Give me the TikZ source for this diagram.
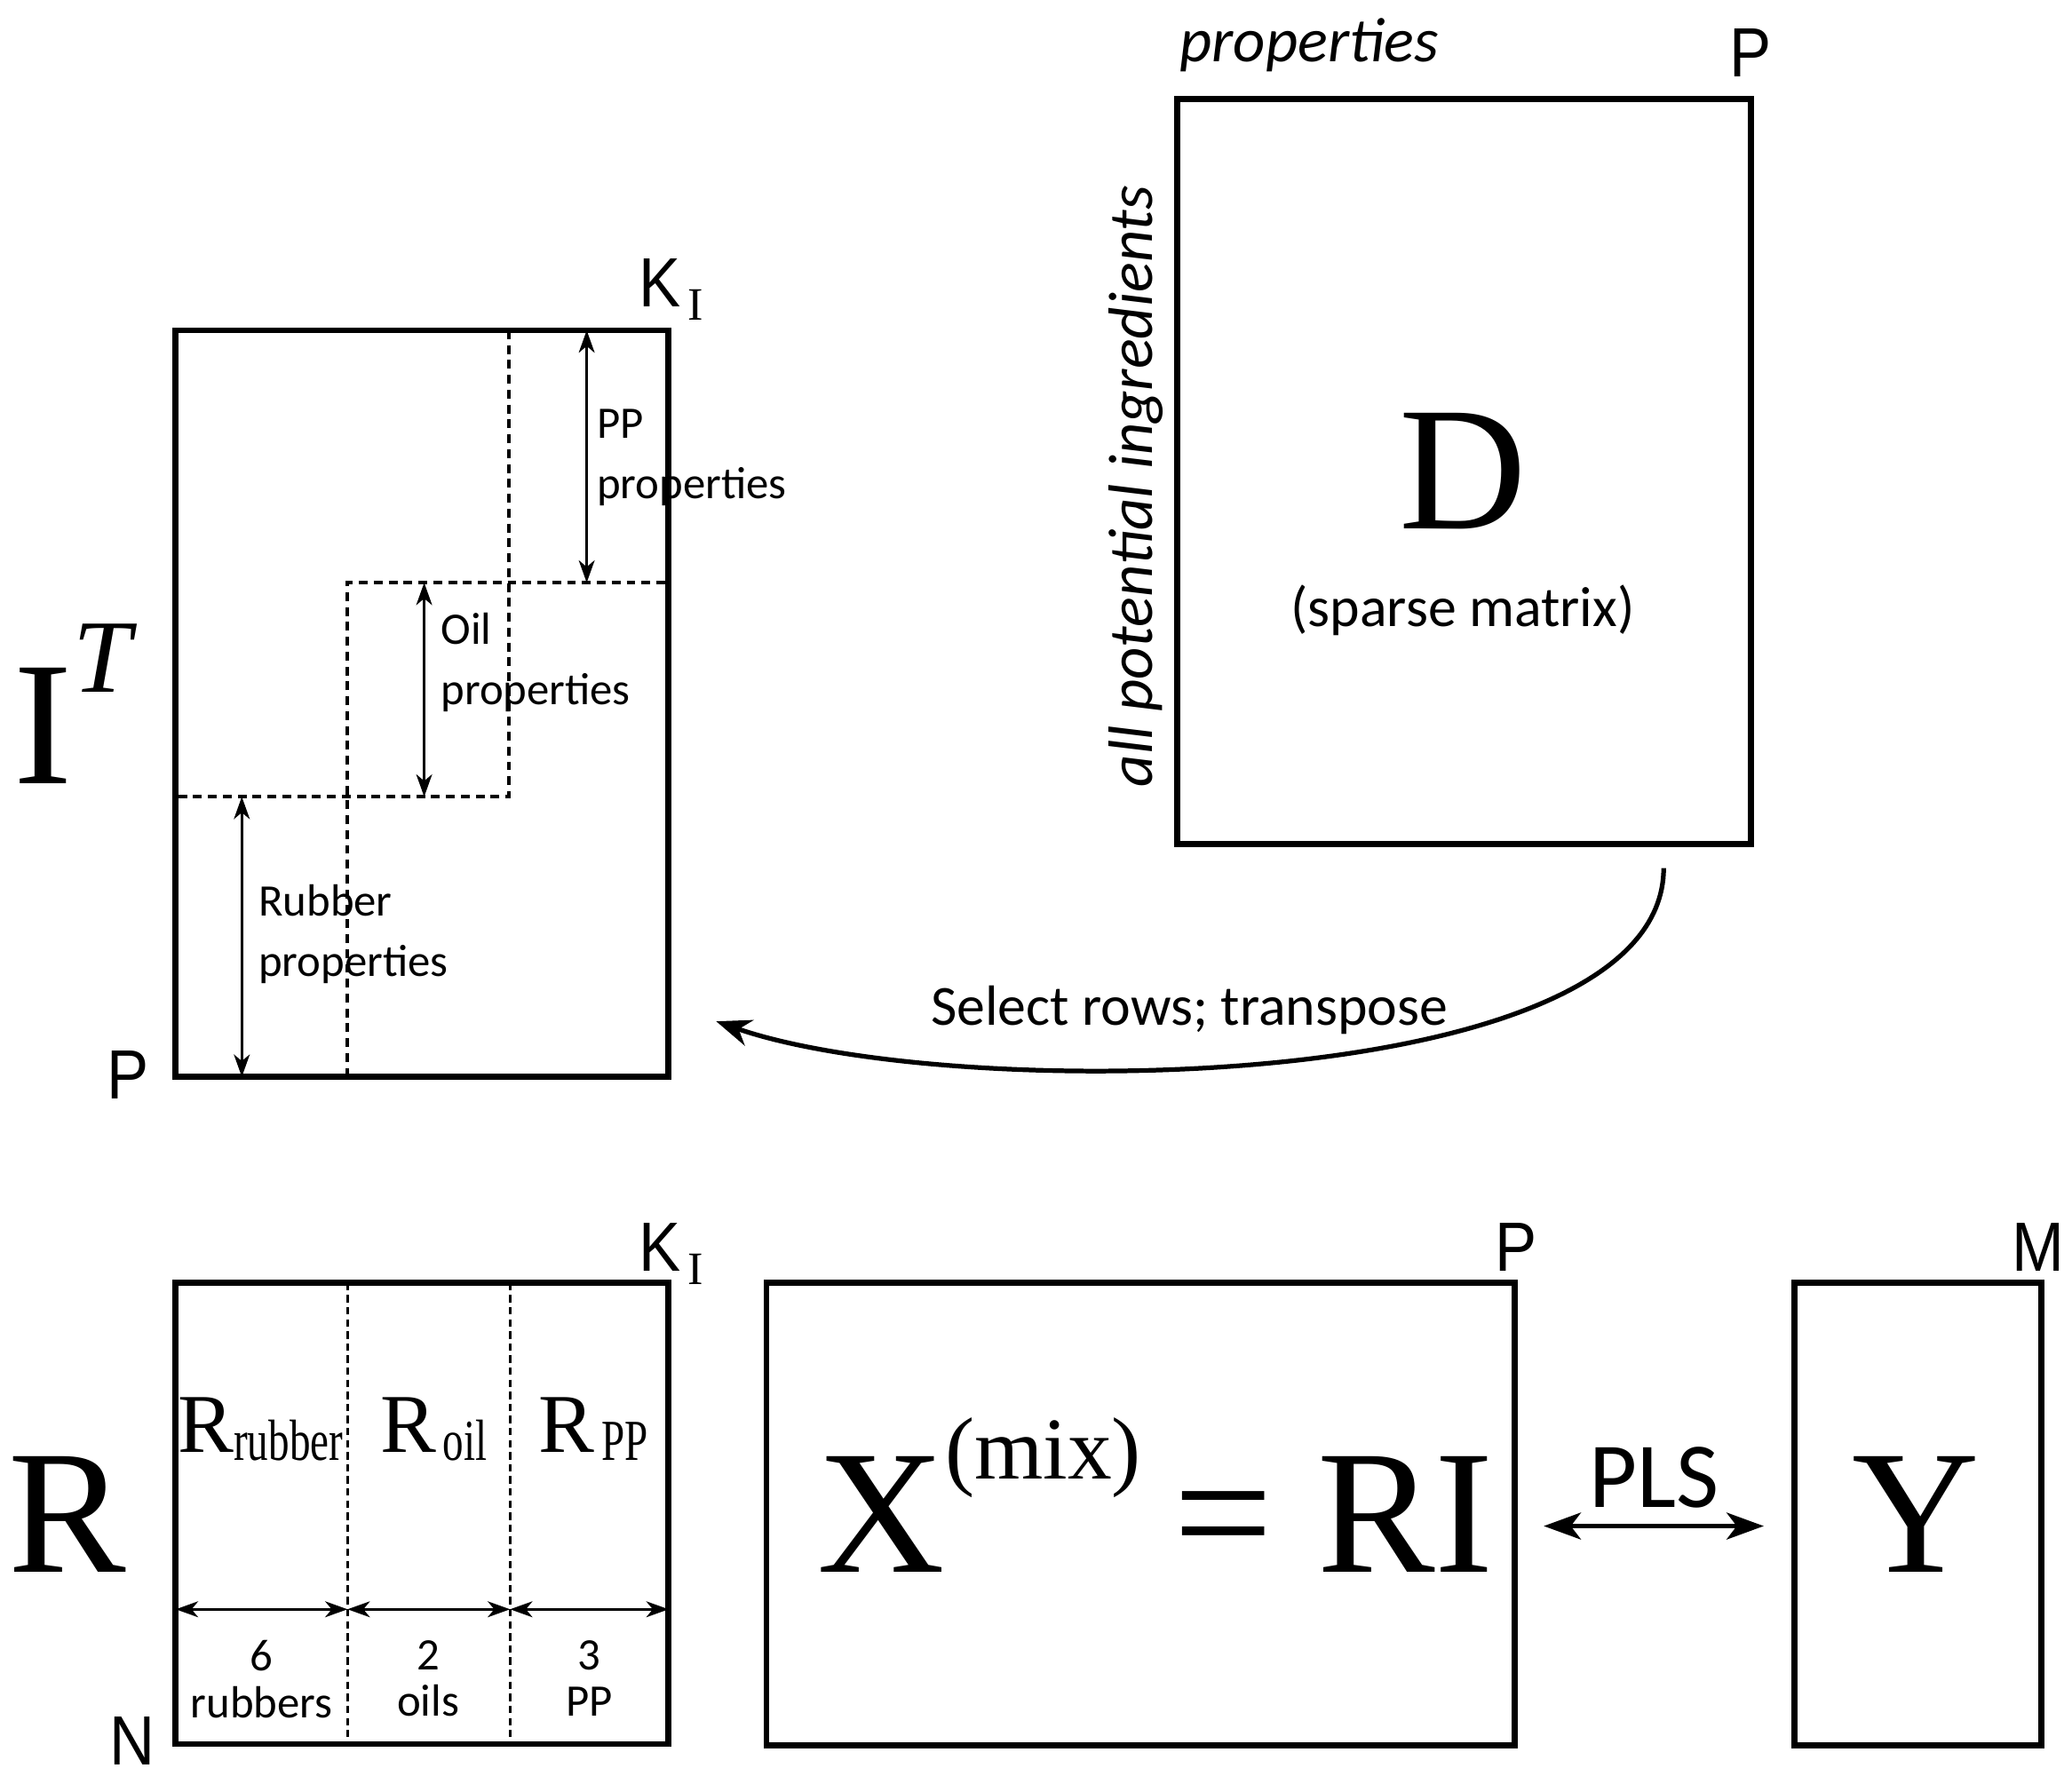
\documentclass[tikz,border=0pt]{standalone}
\usepackage{fontspec}
\setmainfont{Liberation Serif}
\setsansfont{Carlito}
\newfontfamily\dimfont[FakeStretch=0.9]{Liberation Sans}
\newfontfamily\subfont[FakeStretch=0.72]{Liberation Serif}
\usetikzlibrary{arrows.meta,fit}

\begin{document}
\begin{tikzpicture}[
  x=0.01cm, y=-0.01cm,
  mat/.style={rectangle, draw, line width=1.3pt, inner sep=0pt},
  splitline/.style={line width=0.8pt, dash pattern=on 1.9pt off 1.3pt},
  splitthin/.style={line width=0.55pt, dash pattern=on 1.6pt off 1pt},
  spanar/.style={{Stealth[length=4.8pt,width=3.4pt,inset=1.4pt]}-{Stealth[length=4.8pt,width=3.4pt,inset=1.4pt]}, line width=0.6pt},
  selar/.style={-{Stealth[length=7.5pt,width=5.8pt,inset=2.4pt]}, line width=1pt},
  plsar/.style={{Stealth[length=8pt,width=5.8pt,inset=2.2pt]}-{Stealth[length=8pt,width=5.8pt,inset=2.2pt]}, line width=0.8pt},
  grouplab/.style={font=\sffamily\fontsize{9.7}{13}\selectfont, align=left, inner sep=0pt, anchor=north west},
  countlab/.style={font=\sffamily\fontsize{9.7}{10}\selectfont, align=center, inner sep=0pt, anchor=north},
  sizelab/.style={font=\dimfont\fontsize{15}{15}\selectfont, inner sep=0pt, anchor=base west},
  bigsym/.style={font=\fontsize{38}{38}\selectfont, inner sep=0pt},
  blocksym/.style={font=\fontsize{18}{18}\selectfont, inner sep=0pt, anchor=base west},
  notelab/.style={font=\sffamily\fontsize{12.2}{12.2}\selectfont, inner sep=0pt, anchor=base},
]
\useasboundingbox (0,0) rectangle (1568,1344);

% I^T
\node[mat, fit={(133,250) (506,815)}] (Ibox) {};
\draw[splitline] (385,250) -- (385,603) -- (133,603);
\draw[splitline] (263,815) -- (263,441) -- (506,441);
\coordinate (ppTop) at (444,250);
\coordinate (ppBot) at (444,441);
\coordinate (oilTop) at (321,441);
\coordinate (oilBot) at (321,603);
\coordinate (rubTop) at (183,603);
\coordinate (rubBot) at (183,815);
\draw[spanar] (ppTop) -- (ppBot);
\draw[spanar] (oilTop) -- (oilBot);
\draw[spanar] (rubTop) -- (rubBot);
\node[grouplab] (ppLab) at (451,309) {PP\\properties};
\node[grouplab] (oilLab) at (333,463) {Oil\\properties};
\node[grouplab] (rubLab) at (195,669) {Rubber\\properties};
\node[bigsym, anchor=base west] (Isym) at (10,593) {I\raisebox{19.6pt}{\fontsize{22.4}{22.4}\selectfont\itshape T}};
\node[sizelab] (IK) at (483,232) {K\hspace{1.5pt}\raisebox{-3pt}{\rmfamily\fontsize{10}{10}\selectfont I}};
\node[sizelab] (IP) at (80,832) {P};

% D
\node[mat, fit={(891,75) (1325,639)}] (Dbox) {};
\node[bigsym, anchor=base] (Dsym) at (1107,400) {D};
\node[notelab] (Dnote) at (1107,474) {(sparse matrix)};
\node[font=\sffamily\itshape\fontsize{13.5}{13.5}\selectfont, inner sep=0pt, anchor=base west] (propLab) at (892,47) {properties};
\node[font=\sffamily\itshape\fontsize{13.5}{13.5}\selectfont, inner sep=0pt, anchor=base, rotate=90] (ingLab) at (872,368) {all potential ingredients};
\node[sizelab] (DP) at (1308,58) {P};

\coordinate (selStart) at (1259,657);
\coordinate (selEnd) at (542,773);
\draw[selar] (selStart) .. controls (1259,830) and (720,835) .. (selEnd);
\node[notelab] (selLab) at (900,776) {Select rows; transpose};

% R
\node[mat, fit={(133,971) (506,1320)}] (Rbox) {};
\draw[splitthin] (263,971) -- (263,1320);
\draw[splitthin] (386,971) -- (386,1320);
\coordinate (r0) at (133,1218);
\coordinate (r1) at (263,1218);
\coordinate (r2) at (386,1218);
\coordinate (r3) at (506,1218);
\draw[spanar] (r0) -- (r1);
\draw[spanar] (r1) -- (r2);
\draw[spanar] (r2) -- (r3);
\node[countlab] (nRub) at (198,1241) {6\\rubbers};
\node[countlab] (nOil) at (324,1241) {2\\oils};
\node[countlab] (nPP) at (446,1241) {3\\PP};
\node[blocksym] (Rrub) at (134,1099) {R\raisebox{-1.7pt}{\subfont\fontsize{12.5}{12.5}\selectfont rubber}};
\node[blocksym] (Roil) at (287,1099) {R\hspace{1.5pt}\raisebox{-1.7pt}{\subfont\fontsize{12.5}{12.5}\selectfont oil}};
\node[blocksym] (Rpp) at (407,1099) {R\hspace{1.5pt}\raisebox{-1.7pt}{\subfont\fontsize{12.5}{12.5}\selectfont PP}};
\node[bigsym, anchor=base west] (Rsym) at (6,1190) {R};
\node[sizelab] (RK) at (483,962) {K\hspace{1.5pt}\raisebox{-2.8pt}{\rmfamily\fontsize{10}{10}\selectfont I}};
\node[sizelab] (RN) at (82,1336) {N};

% X and Y
\node[mat, fit={(580,971) (1146,1321)}] (Xbox) {};
\node[bigsym, anchor=base west] (Xsym) at (618,1190) {X\raisebox{20pt}{\fontsize{19}{19}\selectfont(mix)}\hspace{7pt}= RI};
\node[sizelab] (XP) at (1131,962) {P};

\node[mat, fit={(1358,971) (1545,1321)}] (Ybox) {};
\node[bigsym, anchor=base] (Ysym) at (1450,1190) {Y};
\node[sizelab] (YM) at (1522,962) {M};

\draw[plsar, shorten <=0.2cm, shorten >=0.21cm] ([yshift=-0.09cm]Xbox.east) -- ([yshift=-0.09cm]Ybox.west);
\node[font=\sffamily\fontsize{20}{20}\selectfont, inner sep=0pt, anchor=base] (plsLab) at (1252,1141) {PLS};
\end{tikzpicture}
\end{document}
